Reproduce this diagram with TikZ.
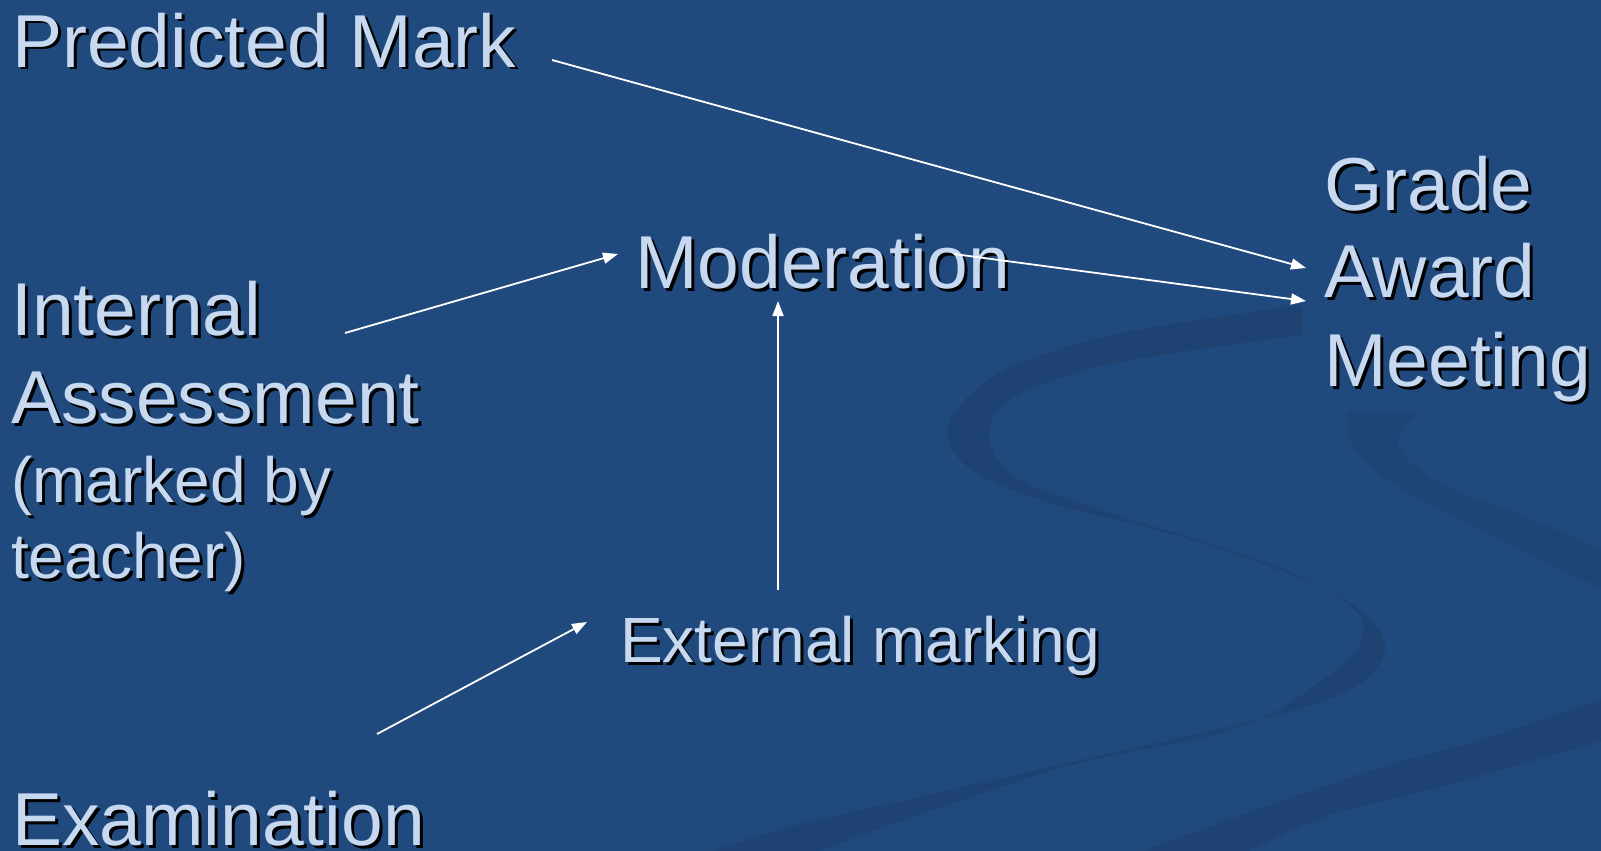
\documentclass[tikz,border=0pt]{standalone}
\usepackage{fontspec}
\setmainfont{Liberation Sans}
\usetikzlibrary{arrows.meta,calc}
\definecolor{bg}{RGB}{32,74,125}
\definecolor{swirl}{RGB}{30,67,115}
\definecolor{txtc}{RGB}{198,217,241}
\tikzset{
 big/.style={font=\fontsize{75}{88}\selectfont},
 small/.style={font=\fontsize{64}{75}\selectfont},
 lbl/.style={inner sep=0pt, anchor=base west, text=txtc},
 shd/.style={inner sep=0pt, anchor=base west, text=black},
 arr/.style={draw=white, line width=1.8pt, -{Triangle[length=15pt,width=11pt]}},
 swirlband/.style={fill=swirl},
}
\newcommand\stext[4]{\node[shd,#3] (#1-s) at ($(#2)+(3,3)$) {#4};\node[lbl,#3] (#1) at (#2) {#4};}
\begin{document}
\begin{tikzpicture}[x=1pt,y=-1pt]
\fill[bg] (0,0) rectangle (1601,851);
\useasboundingbox (0,0) rectangle (1601,851);
\begin{scope}
\clip (0,0) rectangle (1601,851);
% main S ribbon
\fill[swirlband] plot[smooth, tension=0.55] coordinates {(1302,305) (1111,335) (996,375) (948,426) (970,469) (1047,502) (1175,535) (1302,579) (1366,615) (1385,651) (1353,688) (1270,717) (1111,753) (919,797) (792,826) (696,856)}
  -- plot[smooth, tension=0.55] coordinates {(804,856) (1047,772) (1238,728) (1321,681) (1360,644) (1353,608) (1270,564) (1111,513) (1015,477) (989,433) (1015,397) (1111,364) (1302,335)} -- cycle;
% right ribbon
\fill[swirlband, opacity=0.7] plot[smooth, tension=0.55] coordinates {(1347,412) (1352,445) (1385,478) (1440,510) (1520,550) (1605,590)}
  -- plot[smooth, tension=0.55] coordinates {(1605,550) (1520,515) (1450,488) (1410,462) (1398,440) (1420,412)} -- cycle;
% lower ribbon
\fill[swirlband] plot[smooth, tension=0.55] coordinates {(1605,698) (1480,740) (1366,772) (1200,830) (1130,856)}
  -- plot[smooth, tension=0.55] coordinates {(1238,856) (1330,815) (1430,790) (1605,740)} -- cycle;
\end{scope}
% texts
\stext{pm}{12,67}{big}{Predicted Mark}
\stext{mod}{635,288}{big}{Moderation}
\stext{ga1}{1324,210}{big}{Grade}
\stext{ga2}{1324,297}{big}{Award}
\stext{ga3}{1324,386}{big}{Meeting}
\stext{ia1}{11,335}{big}{Internal}
\stext{ia2}{11,423}{big}{Assessment}
\stext{ia3}{11,502}{small}{(marked by}
\stext{ia4}{11,578}{small}{teacher)}
\stext{em}{620,662}{small}{External marking}
\stext{ex}{12,845}{big}{Examination}
% connector ends
\coordinate (a1s) at (552,60);
\coordinate (a1e) at (1306,268);
\coordinate (a2s) at (954,254);
\coordinate (a2e) at (1306,301);
\coordinate (a3s) at (345,333);
\coordinate (a3e) at (618,254);
\coordinate (a4s) at (778,590);
\coordinate (a4e) at (778,301);
\coordinate (a5s) at (377,734);
\coordinate (a5e) at (587,622);
\draw[arr] (a1s) -- (a1e);
\draw[arr] (a2s) -- (a2e);
\draw[arr] (a3s) -- (a3e);
\draw[arr] (a4s) -- (a4e);
\draw[arr] (a5s) -- (a5e);
\end{tikzpicture}
\end{document}
